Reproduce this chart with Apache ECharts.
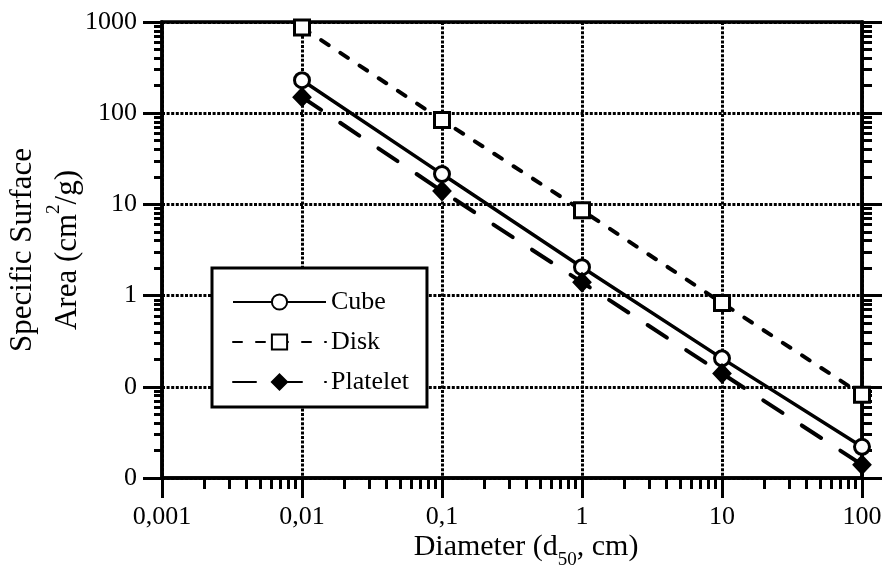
<!DOCTYPE html>
<html>
<head>
<meta charset="utf-8">
<style>
  html, body { margin: 0; padding: 0; background: #fff; }
  #chart { width: 883px; height: 568px; }
</style>
<script src="https://cdn.jsdelivr.net/npm/echarts@6/dist/echarts.min.js"></script>
</head>
<body>
<div id="chart"></div>
<script>
// Specific surface area of cube, disk and platelet particles vs. diameter (log-log)
const xTicks = [0.001, 0.01, 0.1, 1, 10, 100];
const xTickLabels = ['0,001', '0,01', '0,1', '1', '10', '100'];
const yTicks = [0.01, 0.1, 1, 10, 100, 1000];
const yTickLabels = ['0', '0', '1', '10', '100', '1000'];

const seriesNames = ['Cube', 'Disk', 'Platelet'];
const diameters = [0.01, 0.1, 1, 10, 100];
const cube = [230, 21.5, 2.05, 0.205, 0.022];
const disk = [870, 84, 8.6, 0.83, 0.082];
const platelet = [150, 14, 1.4, 0.14, 0.014];

const FONT = '"Liberation Serif", "DejaVu Serif", serif';

// lookup a decade label for a tick value
function decadeLabel(ticks, labels, v) {
  const lv = Math.log10(v);
  for (let i = 0; i < ticks.length; i++) {
    if (Math.abs(Math.log10(ticks[i]) - lv) < 1e-6) return labels[i];
  }
  return '';
}

// minor tick positions (2..9 within each decade), expressed in log10 units
function minorLogTicks(fromExp, toExp) {
  const out = [];
  for (let e = fromExp; e < toExp; e++) {
    for (let k = 2; k <= 9; k++) out.push(e + Math.log10(k));
  }
  return out;
}

const xMinExp = Math.log10(xTicks[0]);
const xMaxExp = Math.log10(xTicks[xTicks.length - 1]);
const yMinExp = Math.log10(yTicks[0]);
const yMaxExp = Math.log10(yTicks[yTicks.length - 1]);

const axisLineStyle = { color: '#000', width: 3.5 };
const tickLineStyle = { color: '#000', width: 3 };
const gridLineStyle = { color: '#000', width: 3, type: [3, 1.6] };

function pairs(ys) { return diameters.map((d, i) => [d, ys[i]]); }

const chart = echarts.init(document.getElementById('chart'), null, { renderer: 'canvas' });

chart.setOption({
  animation: false,
  backgroundColor: '#fff',
  grid: {
    left: 162, right: 21, top: 22, bottom: 90,
    outerBoundsMode: 'none',
    containLabel: false,
    show: true, borderColor: '#000', borderWidth: 3.5, backgroundColor: 'transparent'
  },
  legend: {
    data: seriesNames,
    orient: 'vertical',
    left: 212, top: 268,
    padding: [21, 18, 12, 20],
    itemWidth: 93, itemHeight: 19, itemGap: 14,
    borderColor: '#000', borderWidth: 3, backgroundColor: '#fff',
    selectedMode: false,
    textStyle: { fontFamily: FONT, fontSize: 26, color: '#000' }
  },
  xAxis: [
    {
      type: 'log', logBase: 10, min: xTicks[0], max: xTicks[xTicks.length - 1],
      position: 'bottom',
      axisLine: { show: true, onZero: false, lineStyle: axisLineStyle },
      axisTick: { show: true, length: 20, lineStyle: tickLineStyle },
      axisLabel: {
        margin: 26, fontFamily: FONT, fontSize: 26, color: '#000',
        formatter: v => decadeLabel(xTicks, xTickLabels, v)
      },
      splitLine: { show: true, lineStyle: gridLineStyle },
      name: '{t|Diameter (d}{sub|50}{t|, cm)}',
      nameLocation: 'middle',
      nameGap: 47,
      nameMoveOverlap: false,
      nameTextStyle: {
        padding: [0, 0, 0, 28],
        rich: {
          t: { fontFamily: FONT, fontSize: 30, color: '#000' },
          sub: { fontFamily: FONT, fontSize: 19, color: '#000', verticalAlign: 'bottom', padding: [26, 0, 0, 0] }
        }
      }
    },
    {
      // minor ticks of the bottom axis, in log10 units
      type: 'value', min: xMinExp, max: xMaxExp, position: 'bottom',
      axisLine: { show: false, onZero: false },
      axisTick: { show: true, length: 11, lineStyle: tickLineStyle, customValues: minorLogTicks(xMinExp, xMaxExp) },
      axisLabel: { show: false },
      splitLine: { show: false }
    }
  ],
  yAxis: [
    {
      type: 'log', logBase: 10, min: yTicks[0], max: yTicks[yTicks.length - 1],
      position: 'left',
      axisLine: { show: true, onZero: false, lineStyle: axisLineStyle },
      axisTick: { show: true, length: 19, lineStyle: tickLineStyle },
      axisLabel: {
        margin: 25, fontFamily: FONT, fontSize: 26, color: '#000',
        formatter: v => decadeLabel(yTicks, yTickLabels, v)
      },
      splitLine: { show: true, lineStyle: gridLineStyle },
      name: '{t|Specific Surface}\n{t|Area (cm}{sup|2}{t|/g)}',
      nameLocation: 'middle',
      nameRotate: 90,
      nameGap: 72,
      nameMoveOverlap: false,
      nameTextStyle: {
        rich: {
          t: { fontFamily: FONT, fontSize: 31, color: '#000', lineHeight: 45 },
          sup: { fontFamily: FONT, fontSize: 19, color: '#000', verticalAlign: 'top', padding: [0, 0, 20, 0] }
        }
      }
    },
    {
      // minor ticks of the left axis, in log10 units
      type: 'value', min: yMinExp, max: yMaxExp, position: 'left',
      axisLine: { show: false, onZero: false },
      axisTick: { show: true, length: 8, lineStyle: tickLineStyle, customValues: minorLogTicks(yMinExp, yMaxExp) },
      axisLabel: { show: false },
      splitLine: { show: false }
    },
    {
      // right frame: decade ticks
      type: 'value', min: yMinExp, max: yMaxExp, interval: 1, position: 'right',
      axisLine: { show: true, onZero: false, lineStyle: axisLineStyle },
      axisTick: { show: true, length: 20, lineStyle: tickLineStyle },
      axisLabel: { show: false },
      splitLine: { show: false }
    },
    {
      // right frame: minor ticks
      type: 'value', min: yMinExp, max: yMaxExp, position: 'right',
      axisLine: { show: false, onZero: false },
      axisTick: { show: true, length: 10, lineStyle: tickLineStyle, customValues: minorLogTicks(yMinExp, yMaxExp) },
      axisLabel: { show: false },
      splitLine: { show: false }
    }
  ],
  series: [
    {
      name: seriesNames[0], type: 'line', xAxisIndex: 0, yAxisIndex: 0,
      data: pairs(cube),
      symbol: 'circle', symbolSize: 15,
      itemStyle: { color: '#fff', borderColor: '#000', borderWidth: 3 },
      lineStyle: { color: '#000', width: 3.5 },
      z: 3
    },
    {
      name: seriesNames[1], type: 'line', xAxisIndex: 0, yAxisIndex: 0,
      data: pairs(disk),
      symbol: 'rect', symbolSize: 15,
      itemStyle: { color: '#fff', borderColor: '#000', borderWidth: 3 },
      lineStyle: { color: '#000', width: 4, type: [9, 14], cap: 'round' },
      z: 3
    },
    {
      name: seriesNames[2], type: 'line', xAxisIndex: 0, yAxisIndex: 0,
      data: pairs(platelet),
      symbol: 'diamond', symbolSize: [17, 18],
      itemStyle: { color: '#000', borderColor: '#000', borderWidth: 2 },
      lineStyle: { color: '#000', width: 4, type: [23, 23], cap: 'round' },
      z: 3
    }
  ]
});
</script>
</body>
</html>
